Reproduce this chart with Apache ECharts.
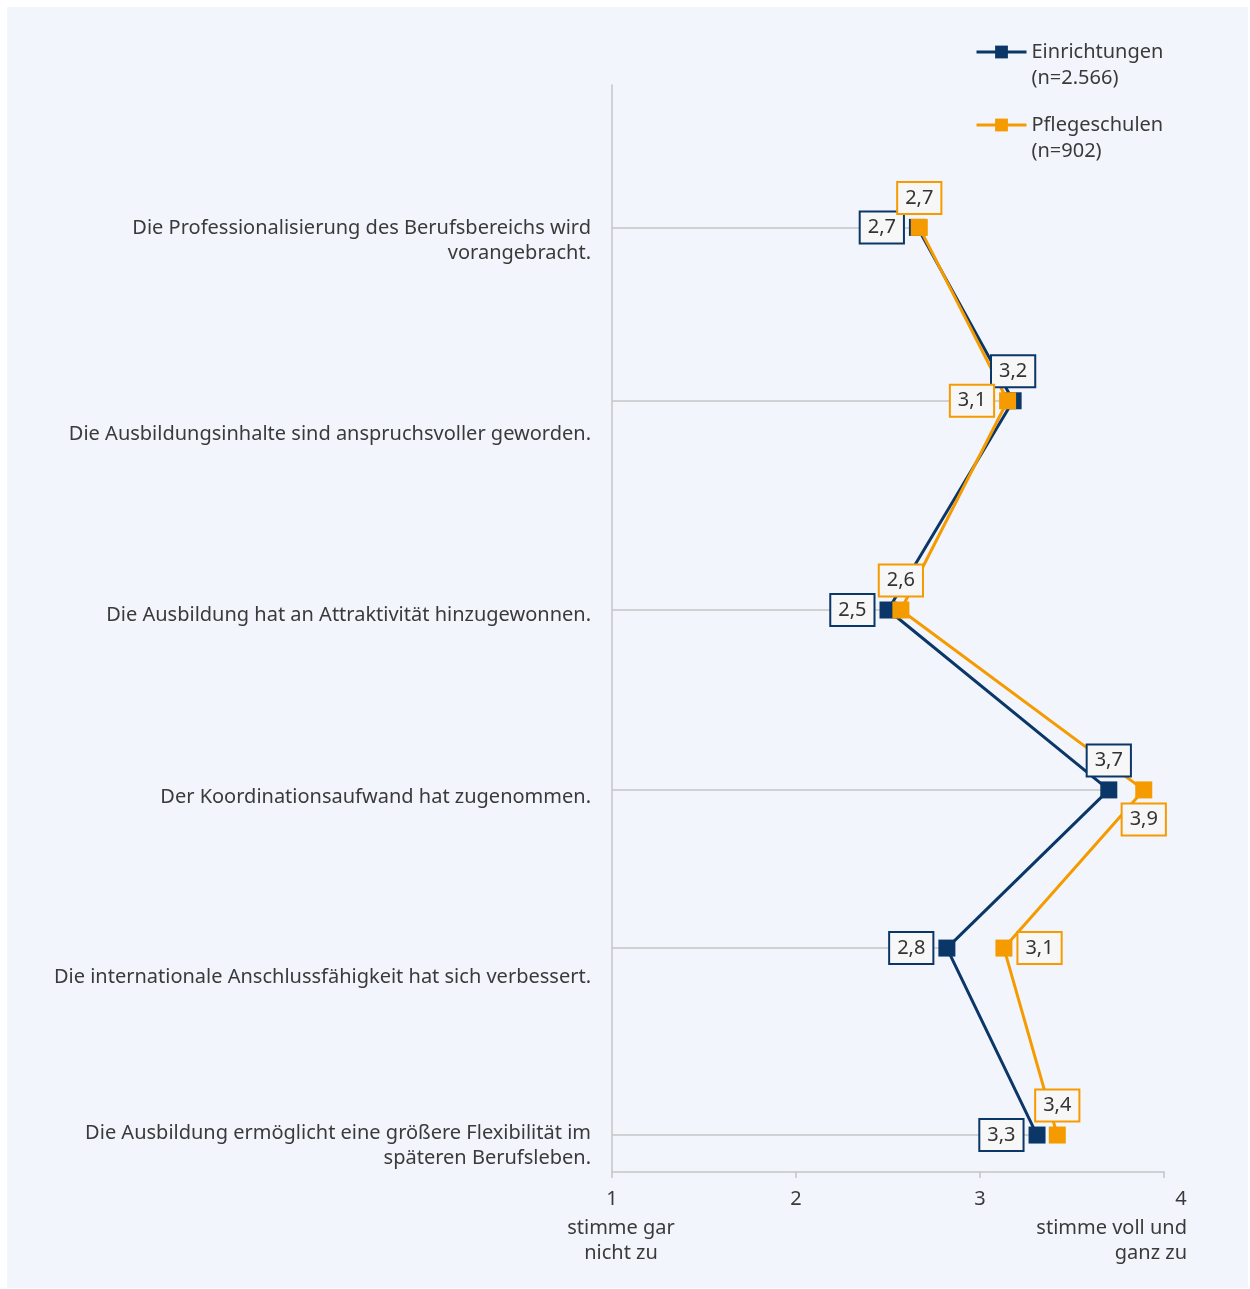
<!DOCTYPE html>
<html>
<head>
<meta charset="utf-8">
<script src="https://cdn.jsdelivr.net/npm/echarts@6/dist/echarts.min.js"></script>
<style>
html,body{margin:0;padding:0;background:#ffffff;}
#chart{position:absolute;left:7px;top:7px;width:1241px;height:1281px;background:#f2f5fc;}
</style>
</head>
<body>
<div id="chart"></div>
<script>
/*Aussagen (Kategorien)*/
var categories = [
	'Die Professionalisierung des Berufsbereichs wird\nvorangebracht.',
	'Die Ausbildungsinhalte sind anspruchsvoller geworden.',
	'Die Ausbildung hat an Attraktivität hinzugewonnen.',
	'Der Koordinationsaufwand hat zugenommen.',
	'Die internationale Anschlussfähigkeit hat sich verbessert.',
	'Die Ausbildung ermöglicht eine größere Flexibilität im\nspäteren Berufsleben.'
];
// Lage der Punkte auf der senkrechten Achse (0 = oben, 100 = unten)
var rowPos = [13.1, 29.05, 48.3, 64.85, 79.4, 96.6];
// Lage der Beschriftungen links
var labelPos = [14.3, 32.1, 48.8, 65.5, 82.1, 97.6];
var einrichtungen = [2.66, 3.18, 2.50, 3.70, 2.82, 3.31];
var pflegeschulen = [2.67, 3.15, 2.57, 3.89, 3.13, 3.42];
var xNotes = {1: 'stimme gar\nnicht zu', 4: 'stimme voll und\nganz zu'};
var seriesNames = ['Einrichtungen', 'Pflegeschulen'];
var seriesNotes = ['(n=2.566)', '(n=902)'];
// wo die Wertkästchen stehen
var posE = ['left', 'top', 'left', 'top', 'left', 'left'];
var posP = ['top', 'left', 'top', 'bottom', 'right', 'top'];

var blue = '#0b3768', orange = '#f59b00';
var font = 'Noto Sans';
var txt = '#3a3a3a';

function fmt(v){ return v.toFixed(1).replace('.', ','); }

function buildData(vals){
	var arr = [];
	for(var i=0;i<vals.length;i++){
		arr.push([vals[i], rowPos[i]]);
	}
	return arr;
}
function buildLabelData(vals, pos){
	var arr = [];
	for(var i=0;i<vals.length;i++){
		arr.push({value:[vals[i], rowPos[i]], label:{position:pos[i]}});
	}
	return arr;
}
function buildLines(){
	var arr = [];
	for(var i=0;i<rowPos.length;i++){
		arr.push([{coord:[1, rowPos[i]]}, {coord:[Math.min(einrichtungen[i], pflegeschulen[i]), rowPos[i]]}]);
	}
	return arr;
}
function labelSeries(name, vals, pos, color){
	return {
		name: name,
		type: 'scatter',
		symbol: 'rect',
		symbolSize: 17,
		silent: true,
		z: 10,
		itemStyle: {color: 'rgba(0,0,0,0)', opacity: 1},
		label: {
			show: true,
			opacity: 1,
			distance: 6,
			formatter: function(p){ return fmt(p.value[0]); },
			fontFamily: font,
			fontSize: 20,
			color: '#333333',
			backgroundColor: '#f7f7f7',
			borderColor: color,
			borderWidth: 2,
			padding: [3, 7, 3, 7],
			lineHeight: 24
		},
		data: buildLabelData(vals, pos)
	};
}

var myChart = echarts.init(document.getElementById('chart'));
var option = {
	animation: false,
	textStyle: {fontFamily: font},
	legend: {
		orient: 'vertical',
		left: 968,
		top: 6,
		padding: 0,
		itemWidth: 50,
		itemHeight: 16,
		itemGap: -5,
		data: seriesNames,
		lineStyle: {width: 3},
		// Leerzeile oben, damit das Symbol auf Höhe der ersten Zeile steht
		formatter: function(name){ return ' \n' + name + '\n' + seriesNotes[seriesNames.indexOf(name)]; },
		textStyle: {fontFamily: font, fontSize: 20, color: txt, lineHeight: 26}
	},
	grid: {left: 605, right: 84, top: 78, bottom: 116},
	xAxis: {
		type: 'value',
		min: 1,
		max: 4,
		interval: 1,
		axisLine: {show: true, onZero: false, lineStyle: {color: '#c4c4c4', width: 1.5}},
		axisTick: {show: true, length: 6, lineStyle: {color: '#c4c4c4', width: 1.5}},
		splitLine: {show: false},
		axisLabel: {
			margin: 17,
			fontFamily: font,
			fontSize: 20,
			color: txt,
			formatter: function(v){ return v == 4 ? '{r|4}' : String(v); },
			rich: {r: {fontFamily: font, fontSize: 20, color: txt, padding: [0, 0, 0, 34]}}
		}
	},
	yAxis: {
		type: 'value',
		inverse: true,
		min: 0,
		max: 100,
		axisLine: {show: true, onZero: false, lineStyle: {color: '#c4c4c4', width: 1.5}},
		axisTick: {show: false},
		splitLine: {show: false},
		axisLabel: {
			customValues: labelPos,
			margin: 21,
			align: 'right',
			fontFamily: font,
			fontSize: 20,
			lineHeight: 25,
			color: txt,
			formatter: function(v){
				var i = labelPos.indexOf(v);
				return i >= 0 ? categories[i] : '';
			}
		}
	},
	graphic: [
		{type: 'text', x: 614, y: 1209, style: {text: xNotes[1], font: '20px "Noto Sans"', fill: txt, align: 'center', lineHeight: 25}},
		{type: 'text', x: 1180, y: 1209, style: {text: xNotes[4], font: '20px "Noto Sans"', fill: txt, align: 'right', lineHeight: 25}}
	],
	series: [
		{
			name: 'hilfslinien',
			type: 'line',
			data: [],
			z: 1,
			silent: true,
			markLine: {
				z: 1,
				silent: true,
				symbol: 'none',
				label: {show: false},
				lineStyle: {color: '#c4c4c4', width: 1.5, type: 'solid'},
				data: buildLines()
			}
		},
		{
			name: seriesNames[0],
			type: 'line',
			symbol: 'rect',
			symbolSize: 17,
			color: blue,
			lineStyle: {color: blue, width: 3},
			itemStyle: {color: blue},
			z: 3,
			data: buildData(einrichtungen)
		},
		{
			name: seriesNames[1],
			type: 'line',
			symbol: 'rect',
			symbolSize: 17,
			color: orange,
			lineStyle: {color: orange, width: 3},
			itemStyle: {color: orange},
			z: 4,
			data: buildData(pflegeschulen)
		},
		labelSeries('werte1', einrichtungen, posE, blue),
		labelSeries('werte2', pflegeschulen, posP, orange)
	]
};
myChart.setOption(option);
</script>
</body>
</html>
